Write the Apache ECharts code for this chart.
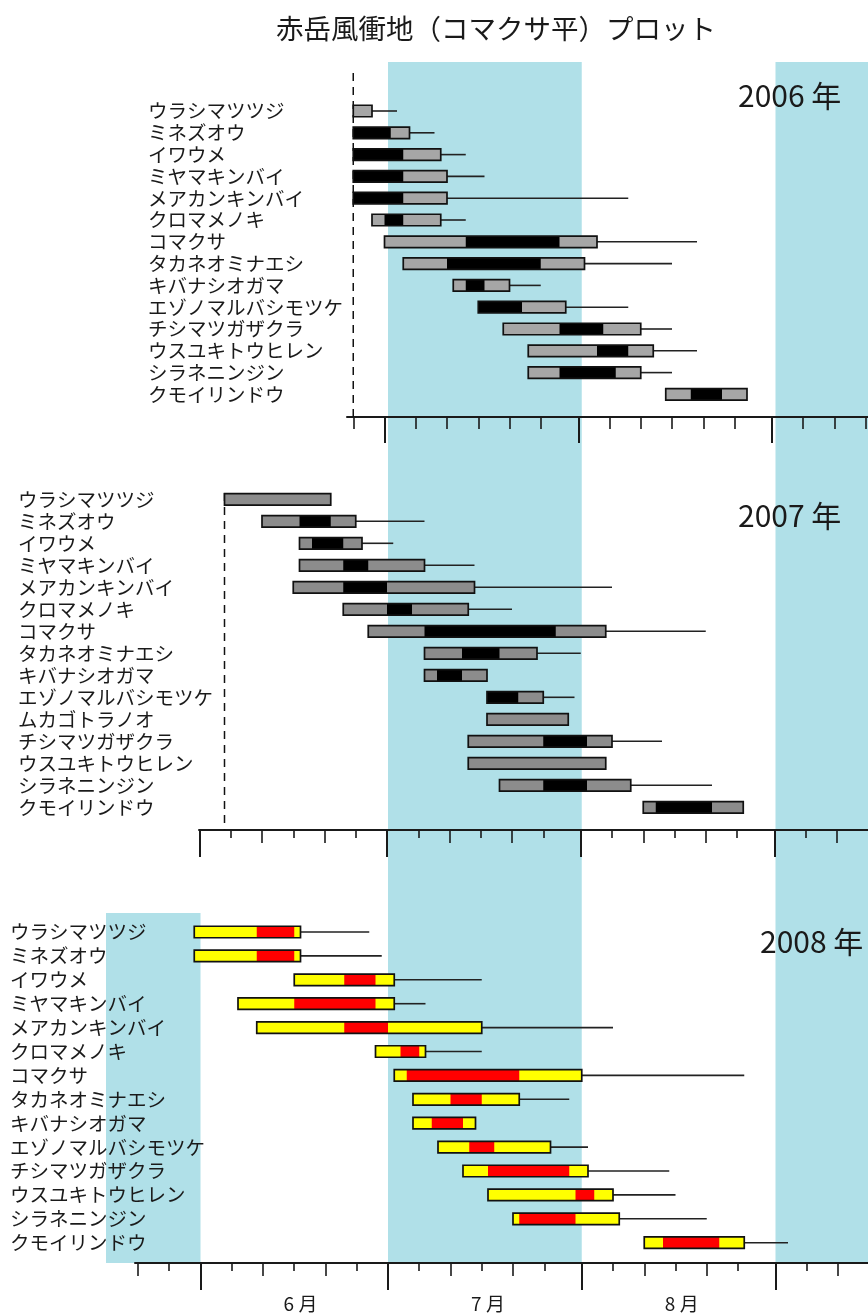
<!DOCTYPE html>
<html>
<head>
<meta charset="utf-8">
<script src="https://cdn.jsdelivr.net/npm/echarts@6/dist/echarts.min.js"></script>
<style>
  html, body { margin: 0; padding: 0; background: #ffffff; }
  #chart { width: 868px; height: 1315px; }
</style>
</head>
<body>
<div id="chart"></div>
<script>
// Flowering phenology on the Akadake wind-exposed plot (Komakusa-daira), 2006-2008.
// Per species: first flowers, peak start, peak end, end of main bloom, last flowers seen.

const chartTitle = '赤岳風衝地（コマクサ平）プロット';
const yearLabels = ['2006 年', '2007 年', '2008 年'];

const species2006   = ['ウラシマツツジ', 'ミネズオウ', 'イワウメ', 'ミヤマキンバイ', 'メアカンキンバイ', 'クロマメノキ', 'コマクサ', 'タカネオミナエシ', 'キバナシオガマ', 'エゾノマルバシモツケ', 'チシマツガザクラ', 'ウスユキトウヒレン', 'シラネニンジン', 'クモイリンドウ'];
const start2006     = ['6/26', '6/26', '6/26', '6/26', '6/26', '6/29', '7/1',  '7/4',  '7/12', '7/16', '7/20', '7/24', '7/24', '8/15'];
const peakStart2006 = [null,   '6/26', '6/26', '6/26', '6/26', '7/1',  '7/14', '7/11', '7/14', '7/16', '7/29', '8/4',  '7/29', '8/19'];
const peakEnd2006   = [null,   '7/2',  '7/4',  '7/4',  '7/4',  '7/4',  '7/29', '7/26', '7/17', '7/23', '8/5',  '8/9',  '8/7',  '8/24'];
const bloomEnd2006  = ['6/29', '7/5',  '7/10', '7/11', '7/11', '7/10', '8/4',  '8/2',  '7/21', '7/30', '8/11', '8/13', '8/11', '8/28'];
const lastSeen2006  = ['7/3',  '7/9',  '7/14', '7/17', '8/9',  '7/14', '8/20', '8/16', '7/26', '8/9',  '8/16', '8/20', '8/16', null];
const snowmelt2006  = '6/26';

const species2007   = ['ウラシマツツジ', 'ミネズオウ', 'イワウメ', 'ミヤマキンバイ', 'メアカンキンバイ', 'クロマメノキ', 'コマクサ', 'タカネオミナエシ', 'キバナシオガマ', 'エゾノマルバシモツケ', 'ムカゴトラノオ', 'チシマツガザクラ', 'ウスユキトウヒレン', 'シラネニンジン', 'クモイリンドウ'];
const start2007     = ['6/5',  '6/11', '6/17', '6/17', '6/16', '6/24', '6/28', '7/7',  '7/7',  '7/17', '7/17', '7/14', '7/14', '7/19', '8/11'];
const peakStart2007 = [null,   '6/17', '6/19', '6/24', '6/24', '7/1',  '7/7',  '7/13', '7/9',  '7/17', null,   '7/26', null,   '7/26', '8/13'];
const peakEnd2007   = [null,   '6/22', '6/24', '6/28', '7/1',  '7/5',  '7/28', '7/19', '7/13', '7/22', null,   '8/2',  null,   '8/2',  '8/22'];
const bloomEnd2007  = ['6/22', '6/26', '6/27', '7/7',  '7/15', '7/14', '8/5',  '7/25', '7/17', '7/26', '7/30', '8/6',  '8/5',  '8/9',  '8/27'];
const lastSeen2007  = [null,   '7/7',  '7/2',  '7/15', '8/6',  '7/21', '8/21', '8/1',  null,   '7/31', null,   '8/14', null,   '8/22', null];
const snowmelt2007  = '6/5';

const species2008   = ['ウラシマツツジ', 'ミネズオウ', 'イワウメ', 'ミヤマキンバイ', 'メアカンキンバイ', 'クロマメノキ', 'コマクサ', 'タカネオミナエシ', 'キバナシオガマ', 'エゾノマルバシモツケ', 'チシマツガザクラ', 'ウスユキトウヒレン', 'シラネニンジン', 'クモイリンドウ'];
const start2008     = ['5/31', '5/31', '6/16', '6/7',  '6/10', '6/29', '7/2',  '7/5',  '7/5',  '7/9',  '7/13', '7/17', '7/21', '8/11'];
const peakStart2008 = ['6/10', '6/10', '6/24', '6/16', '6/24', '7/3',  '7/4',  '7/11', '7/8',  '7/14', '7/17', '7/31', '7/22', '8/14'];
const peakEnd2008   = ['6/16', '6/16', '6/29', '6/29', '7/1',  '7/6',  '7/22', '7/16', '7/13', '7/18', '7/30', '8/3',  '7/31', '8/23'];
const bloomEnd2008  = ['6/17', '6/17', '7/2',  '7/2',  '7/16', '7/7',  '8/1',  '7/22', '7/15', '7/27', '8/2',  '8/6',  '8/7',  '8/27'];
const lastSeen2008  = ['6/28', '6/30', '7/16', '7/7',  '8/6',  '7/16', '8/27', '7/30', null,   '8/2',  '8/15', '8/16', '8/21', '9/3'];

// Month shading (July and September run through all three years; May only in 2008)
const shadedMonths = [['7/1', '8/1'], ['9/1', '10/1']];
const shadedMonths2008 = [['5/1', '6/1']];

// Axis ticks: month starts, 10-day and 5-day marks, and month names
const monthTicks = ['6/1', '7/1', '8/1', '9/1'];
const tenDayTicks = ['5/22', '6/11', '6/21', '7/11', '7/21', '8/11', '8/21', '9/11'];
const fiveDayTicks = ['5/27', '6/6', '6/16', '6/26', '7/6', '7/16', '7/26', '8/6', '8/16', '8/26', '9/6', '9/16'];
const monthLabels = ['6 月', '7 月', '8 月'];
const monthLabelAt = ['6/17', '7/17', '8/17'];

// ---- helpers ----
const CUM = [0, 31, 59, 90, 120, 151, 181, 212, 243, 273, 304, 334];
const doy = s => { const [m, d] = s.split('/').map(Number); return CUM[m - 1] + d; };
const val = s => (s == null ? NaN : doy(s));
const ok = v => v != null && !isNaN(v);

const WIDTH = 868, HEIGHT = 1315;
const PX_PER_DAY = 6.25;
const JUNE1 = doy('6/1');
const FONT = '"Noto Sans CJK JP", "Noto Sans", sans-serif';
const INK = '#1a1a1a';
const BAND = '#b0e0e8';

// x range of a grid that starts at `left`, with 1 June drawn at `june1Px`
function span(left, june1Px) {
  return { min: JUNE1 + (left - june1Px) / PX_PER_DAY, max: JUNE1 + (WIDTH - june1Px) / PX_PER_DAY };
}

const panels = [
  { species: species2006, start: start2006, ps: peakStart2006, pe: peakEnd2006, end: bloomEnd2006, last: lastSeen2006,
    snow: snowmelt2006, fill: '#a6a6a6', peak: '#000000', june1Px: 197, labelLeft: 148, firstRow: 111, rowH: 21.8,
    axisLeft: 347, axisY: 417, dashTop: 73, tick: [26, 12, 12], year: yearLabels[0], yearX: 738, yearY: 96 },
  { species: species2007, start: start2007, ps: peakStart2007, pe: peakEnd2007, end: bloomEnd2007, last: lastSeen2007,
    snow: snowmelt2007, fill: '#8c8c8c', peak: '#000000', june1Px: 199.5, labelLeft: 18, firstRow: 499.3, rowH: 22,
    axisLeft: 199, axisY: 830, dashTop: 493, tick: [27, 13, 8], year: yearLabels[1], yearX: 738, yearY: 516 },
  { species: species2008, start: start2008, ps: peakStart2008, pe: peakEnd2008, end: bloomEnd2008, last: lastSeen2008,
    snow: null, fill: '#ffff00', peak: '#ff0000', june1Px: 200.5, labelLeft: 10, firstRow: 932, rowH: 23.9,
    axisLeft: 135, axisY: 1263, dashTop: null, tick: [27, 13, 8], year: yearLabels[2], yearX: 760, yearY: 942,
    months: true }
];

const grids = [], xAxes = [], yAxes = [], series = [];

function renderBand(params, api) {
  const cs = params.coordSys;
  let a = api.coord([api.value(0), 0])[0];
  let b = api.coord([api.value(1), 0])[0];
  a = Math.max(a, cs.x); b = Math.min(b, cs.x + cs.width);
  if (b <= a) return null;
  return { type: 'rect', shape: { x: a, y: cs.y, width: b - a, height: cs.height }, style: { fill: BAND } };
}

function addBandGrid(left, top, june1Px, months) {
  grids.push({ left: left, right: 0, top: top, bottom: HEIGHT - 1263 });
  const g = grids.length - 1;
  xAxes.push(Object.assign({ gridIndex: g, type: 'value', show: false }, span(left, june1Px)));
  yAxes.push({ gridIndex: g, type: 'value', show: false, min: 0, max: 1 });
  series.push({
    type: 'custom', xAxisIndex: xAxes.length - 1, yAxisIndex: yAxes.length - 1, z: 0, silent: true,
    renderItem: renderBand, encode: { x: [0, 1] },
    data: months.map(([a, b]) => [doy(a), doy(b)])
  });
}

addBandGrid(0, 62, 200.5, shadedMonths);
addBandGrid(106, 913, 200.5, shadedMonths2008);

function bloomRenderer(p, barH) {
  return function (params, api) {
    const row = api.value(0);
    const xOf = d => api.coord([d, row])[0];
    const yc = api.coord([api.value(1), row])[1];
    const x0 = xOf(api.value(1)), x1 = xOf(api.value(4));
    const top = yc - barH / 2;
    const kids = [];
    const last = api.value(5);
    if (ok(last)) {
      kids.push({ type: 'line', shape: { x1: x1, y1: yc, x2: xOf(last), y2: yc },
        style: { stroke: '#222222', lineWidth: 1.6 } });
    }
    kids.push({ type: 'rect', shape: { x: x0, y: top, width: x1 - x0, height: barH }, style: { fill: p.fill } });
    const ps = api.value(2), pe = api.value(3);
    if (ok(ps) && ok(pe)) {
      kids.push({ type: 'rect', shape: { x: xOf(ps), y: top, width: xOf(pe) - xOf(ps), height: barH },
        style: { fill: p.peak } });
    }
    kids.push({ type: 'rect', shape: { x: x0, y: top, width: x1 - x0, height: barH },
      style: { fill: 'none', stroke: '#111111', lineWidth: 1.7 } });
    return { type: 'group', children: kids };
  };
}

const graphics = [{
  type: 'text', x: 496, y: 29, z: 100,
  style: { text: chartTitle, font: '27.5px ' + FONT, fill: INK, textAlign: 'center', textVerticalAlign: 'middle' }
}];

panels.forEach(p => {
  // bars and species names
  const n = p.species.length;
  grids.push({ left: p.labelLeft, right: 0, top: p.firstRow - p.rowH / 2, height: p.rowH * n });
  const gBars = grids.length - 1;
  xAxes.push(Object.assign({ gridIndex: gBars, type: 'value', show: false }, span(p.labelLeft, p.june1Px)));
  yAxes.push({
    gridIndex: gBars, type: 'category', data: p.species, inverse: true,
    axisLine: { show: false }, axisTick: { show: false }, splitLine: { show: false },
    axisLabel: { inside: true, margin: 0, interval: 0, hideOverlap: false,
      fontSize: 19.5, fontFamily: FONT, color: INK }
  });
  series.push({
    type: 'custom', xAxisIndex: xAxes.length - 1, yAxisIndex: yAxes.length - 1, z: 3, silent: true,
    renderItem: bloomRenderer(p, 11.5), encode: { x: [1, 4], y: 0 },
    data: p.species.map((_, i) => [i, val(p.start[i]), val(p.ps[i]), val(p.pe[i]), val(p.end[i]), val(p.last[i])])
  });

  // date axis (and snow-melt line)
  const axTop = p.dashTop != null ? p.dashTop : p.axisY - 20;
  grids.push({ left: p.axisLeft, right: 0, top: axTop, bottom: HEIGHT - p.axisY });
  const gAx = grids.length - 1;
  const ext = span(p.axisLeft, p.june1Px);
  const inside = list => list.map(doy).filter(v => v >= ext.min - 1e-6 && v <= ext.max + 1e-6);
  yAxes.push({ gridIndex: gAx, type: 'value', show: false, min: 0, max: 1 });
  const yAx = yAxes.length - 1;
  const tickSets = [monthTicks, tenDayTicks, fiveDayTicks];
  tickSets.forEach((set, k) => {
    const axis = Object.assign({
      gridIndex: gAx, type: 'value', position: 'bottom',
      axisLine: { show: k === 0, onZero: false, lineStyle: { color: INK, width: 2 } },
      axisTick: { show: true, customValues: inside(set), length: p.tick[k],
        lineStyle: { color: INK, width: k === 0 ? 2 : 1.6 } },
      axisLabel: { show: false },
      splitLine: { show: false }
    }, ext);
    if (k === 0 && p.months) {
      const at = monthLabelAt.map(doy);
      axis.axisLabel = {
        show: true, customValues: at, margin: 31, fontSize: 19, fontFamily: FONT, color: INK,
        formatter: v => monthLabels[at.indexOf(v)] || ''
      };
    }
    xAxes.push(axis);
  });
  if (p.snow) {
    series.push({
      type: 'custom', xAxisIndex: xAxes.length - 3, yAxisIndex: yAx, z: 1, silent: true,
      encode: { x: 0, y: 1 }, data: [[doy(p.snow), 0]],
      renderItem: (params, api) => {
        const cs = params.coordSys;
        const x = api.coord([api.value(0), 0])[0];
        return { type: 'line', shape: { x1: x, y1: cs.y, x2: x, y2: cs.y + cs.height },
          style: { stroke: '#111111', lineWidth: 1.5, lineDash: [8, 6] } };
      }
    });
  }

  graphics.push({
    type: 'text', x: p.yearX, y: p.yearY, z: 100,
    style: { text: p.year, font: '30px ' + FONT, fill: INK, textAlign: 'left', textVerticalAlign: 'middle' }
  });
});

const chart = echarts.init(document.getElementById('chart'), null, { renderer: 'canvas' });
chart.setOption({
  animation: false,
  backgroundColor: '#ffffff',
  grid: grids,
  xAxis: xAxes,
  yAxis: yAxes,
  series: series,
  graphic: graphics
});
</script>
</body>
</html>
